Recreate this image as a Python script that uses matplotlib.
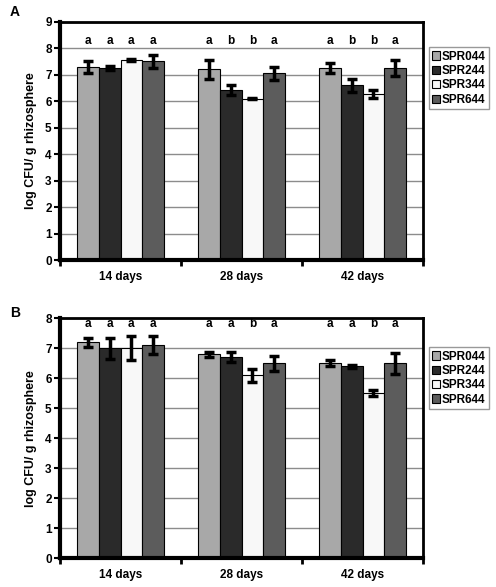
import matplotlib
matplotlib.use("Agg")
import matplotlib.pyplot as plt
import numpy as np

plt.rcParams['font.family'] = ['Liberation Sans', 'DejaVu Sans']
plt.rcParams['font.weight'] = 'bold'

groups = ["14 days", "28 days", "42 days"]
strains = ["SPR044", "SPR244", "SPR344", "SPR644"]
colors = ["#a8a8a8", "#2a2a2a", "#f8f8f8", "#5c5c5c"]

# panel A
a_vals = [[7.30, 7.25, 7.55, 7.50],
          [7.20, 6.42, 6.10, 7.05],
          [7.25, 6.60, 6.28, 7.25]]
a_err = [[0.22, 0.08, 0.04, 0.25],
         [0.35, 0.20, 0.02, 0.25],
         [0.20, 0.25, 0.15, 0.30]]
a_letters = [["a", "a", "a", "a"],
             ["a", "b", "b", "a"],
             ["a", "b", "b", "a"]]

# panel B
b_vals = [[7.20, 7.00, 7.00, 7.10],
          [6.80, 6.70, 6.10, 6.50],
          [6.50, 6.40, 5.50, 6.50]]
b_err = [[0.15, 0.35, 0.40, 0.30],
         [0.08, 0.17, 0.22, 0.25],
         [0.10, 0.05, 0.10, 0.35]]
b_letters = [["a", "a", "a", "a"],
             ["a", "a", "b", "a"],
             ["a", "a", "b", "a"]]


def draw_panel(ax, vals, errs, letters, ymax, letter_y, label, label_y, leg_y):
    vals = np.array(vals)
    errs = np.array(errs)
    x = np.arange(len(groups))
    w = 0.18
    offsets = (np.arange(len(strains)) - 1.5) * w
    for j, s in enumerate(strains):
        ax.bar(x + offsets[j], vals[:, j], w, color=colors[j], edgecolor="black",
               linewidth=0.8, label=s, zorder=3)
        ax.errorbar(x + offsets[j], vals[:, j], yerr=errs[:, j], fmt="none",
                    ecolor="black", elinewidth=2.5, capsize=3.5, capthick=2.5, zorder=4)
        for i in range(len(groups)):
            ax.text(x[i] + offsets[j], letter_y, letters[i][j], ha="center",
                    va="bottom", fontsize=8.5, fontweight="bold")
    ax.set_xlim(-0.5, len(groups) - 0.5)
    ax.set_ylim(0, ymax)
    ax.set_yticks(range(ymax + 1))
    ax.set_xticks(x)
    ax.set_xticklabels(groups, fontsize=8.5, fontweight="bold")
    ax.set_xticks(np.arange(-0.5, len(groups)), minor=True)
    ax.tick_params(axis="x", which="major", length=0, pad=8)
    ax.tick_params(axis="x", which="minor", length=4, width=2, direction="out")
    ax.tick_params(axis="y", length=4, width=1.5, labelsize=8.5, pad=2)
    for t in ax.get_yticklabels():
        t.set_fontweight("bold")
    ax.set_axisbelow(True)
    ax.yaxis.grid(True, color="#8c8c8c", linewidth=1)
    for side in ["left", "bottom"]:
        ax.spines[side].set_linewidth(3)
    for side in ["top", "right"]:
        ax.spines[side].set_linewidth(2)
    for sp in ax.spines.values():
        sp.set_zorder(6)
    ax.set_ylabel("log CFU/ g rhizosphere", fontsize=9, fontweight="bold", labelpad=6)
    leg = ax.legend(loc="upper left", bbox_to_anchor=(1.015, leg_y), fontsize=8.5,
                    frameon=True, fancybox=False, handlelength=0.7, handleheight=0.7,
                    handletextpad=0.15, borderpad=0.3, labelspacing=0.2,
                    borderaxespad=0)
    leg.get_frame().set_edgecolor("#808080")
    leg.get_frame().set_linewidth(1)
    for t in leg.get_texts():
        t.set_fontweight("bold")
    ax.figure.text(0.02, label_y, label, fontsize=10, fontweight="bold", va="center")


fig = plt.figure(figsize=(4.96, 5.87), dpi=100)
ax1 = fig.add_axes([0.121, 0.557, 0.732, 0.406])
ax2 = fig.add_axes([0.121, 0.049, 0.732, 0.409])

draw_panel(ax1, a_vals, a_err, a_letters, 9, 8.05, "A", 1 - 12 / 587, 0.893)
draw_panel(ax2, b_vals, b_err, b_letters, 8, 7.62, "B", 1 - 313 / 587, 0.88)

fig.savefig("out.png", dpi=100)
